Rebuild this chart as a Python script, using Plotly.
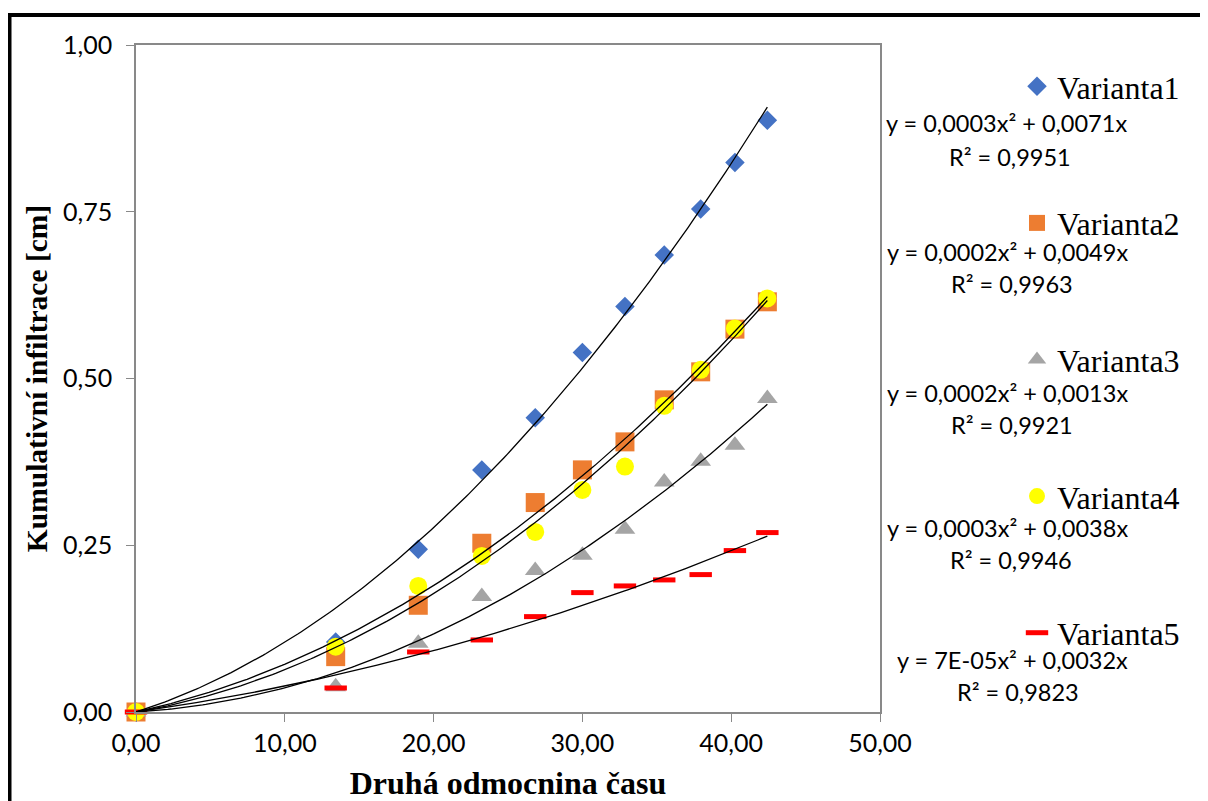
import numpy as np
import plotly.graph_objects as go

# ---- data ----
x_vals = [0.00, 13.42, 18.97, 23.24, 26.83, 30.00, 32.86, 35.50, 37.95, 40.25, 42.43]
varianta1 = [0.000, 0.105, 0.244, 0.363, 0.441, 0.539, 0.608, 0.685, 0.754, 0.824, 0.887]
varianta2 = [0.000, 0.083, 0.160, 0.253, 0.314, 0.363, 0.405, 0.468, 0.510, 0.574, 0.615]
varianta3 = [0.000, 0.038, 0.103, 0.173, 0.212, 0.235, 0.274, 0.345, 0.376, 0.400, 0.470]
varianta4 = [0.000, 0.098, 0.189, 0.234, 0.270, 0.333, 0.368, 0.459, 0.513, 0.575, 0.620]
varianta5 = [0.000, 0.036, 0.090, 0.108, 0.143, 0.179, 0.189, 0.198, 0.206, 0.242, 0.269]

series_names = ["Varianta1", "Varianta2", "Varianta3", "Varianta4", "Varianta5"]
series_values = [varianta1, varianta2, varianta3, varianta4, varianta5]
equations = ["y = 0,0003x² + 0,0071x", "y = 0,0002x² + 0,0049x", "y = 0,0002x² + 0,0013x",
             "y = 0,0003x² + 0,0038x", "y = 7E-05x² + 0,0032x"]
r_squared = ["R² = 0,9951", "R² = 0,9963", "R² = 0,9921", "R² = 0,9946", "R² = 0,9823"]

x_title = "Druhá odmocnina času"
y_title = "Kumulativní infiltrace [cm]"

# ---- styles ----
colors = ["#4472C4", "#ED7D31", "#A5A5A5", "#FFFF00", "#FF0000"]
symbols = ["diamond", "square", "triangle-up", "circle", "line-ew"]
sizes = [15, 19, 18, 18, 16]

# page offset (browser body margin) and plot-area pixel geometry (screen coords)
OFF = 8
X0, X1, Y0, Y1 = 136 - OFF, 880 - OFF, 712 - OFF, 45 - OFF
W, H = 1208 - OFF, 801 - OFF
def px(x):
    return (x - OFF - X0) / (X1 - X0)
def py(y):
    return (Y0 - (y - OFF)) / (Y0 - Y1)

fig = go.Figure()
xa = np.array(x_vals)
for i, (name, vals) in enumerate(zip(series_names, series_values)):
    if symbols[i] == "line-ew":
        marker = dict(symbol="line-ew", size=sizes[i], line=dict(color=colors[i], width=5))
    else:
        marker = dict(symbol=symbols[i], size=sizes[i], color=colors[i], line=dict(width=0))
    fig.add_trace(go.Scatter(x=x_vals, y=vals, mode="markers", name=name, marker=marker,
                             legendgroup=name, cliponaxis=False))

# polynomial (order 2, zero intercept) trendlines
xs = np.linspace(0, max(x_vals), 200)
for i, vals in enumerate(series_values):
    A = np.column_stack([xa ** 2, xa])
    coef, *_ = np.linalg.lstsq(A, np.array(vals), rcond=None)
    fig.add_trace(go.Scatter(x=xs, y=coef[0] * xs ** 2 + coef[1] * xs, mode="lines",
                             line=dict(color="black", width=1.3), showlegend=False,
                             hoverinfo="skip"))

# equation annotations (screen pixel positions)
eq_pos = [(1129, 123), (1130, 252), (1130, 393), (1130, 528), (1130, 660)]
r2_pos = [(947, 157), (949, 284), (949, 425), (948, 560), (955, 692)]
annotations = []
for i in range(5):
    annotations.append(dict(x=px(eq_pos[i][0]), y=py(eq_pos[i][1]), xref="paper", yref="paper",
                            text=equations[i], showarrow=False, xanchor="right", yanchor="middle",
                            font=dict(family="Lato", size=23.5, color="black")))
    annotations.append(dict(x=px(r2_pos[i][0]), y=py(r2_pos[i][1]), xref="paper", yref="paper",
                            text=r_squared[i], showarrow=False, xanchor="left", yanchor="middle",
                            font=dict(family="Lato", size=23.5, color="black")))

shapes = [
    dict(type="line", xref="paper", yref="paper", x0=px(7), x1=px(1215), y0=py(15), y1=py(15),
         line=dict(color="black", width=4)),
    dict(type="line", xref="paper", yref="paper", x0=px(9.5), x1=px(9.5), y0=py(13), y1=py(810),
         line=dict(color="black", width=4)),
]

axis_common = dict(showgrid=False, zeroline=False, showline=True, linecolor="#898989",
                   linewidth=1.5, mirror=True, ticks="outside", tickcolor="#898989",
                   automargin=False,
                   tickfont=dict(family="Lato", size=25, color="black"), tickformat=".2f")

fig.update_layout(
    width=W, height=H,
    margin=dict(l=X0, r=W - X1, t=Y1, b=H - Y0, pad=0, autoexpand=False),
    paper_bgcolor="white", plot_bgcolor="white",
    separators=", ",
    xaxis=dict(range=[0, 50], dtick=10, tick0=0, ticklen=8,
               title=dict(text=x_title, standoff=17,
                          font=dict(family="Liberation Serif", size=32, color="black", weight="bold")),
               **axis_common),
    yaxis=dict(range=[0, 1], dtick=0.25, tick0=0, ticklen=8, ticklabelstandoff=9,
               title=dict(text=y_title, standoff=7,
                          font=dict(family="Liberation Serif", size=29.5, color="black", weight="bold")),
               **axis_common),
    legend=dict(x=px(1017), y=py(59), xanchor="left", yanchor="top",
                font=dict(family="Liberation Serif", size=32, color="black"),
                tracegroupgap=92, bgcolor="rgba(0,0,0,0)"),
    annotations=annotations,
    shapes=shapes,
    showlegend=True,
)

fig.write_html("out.html")
